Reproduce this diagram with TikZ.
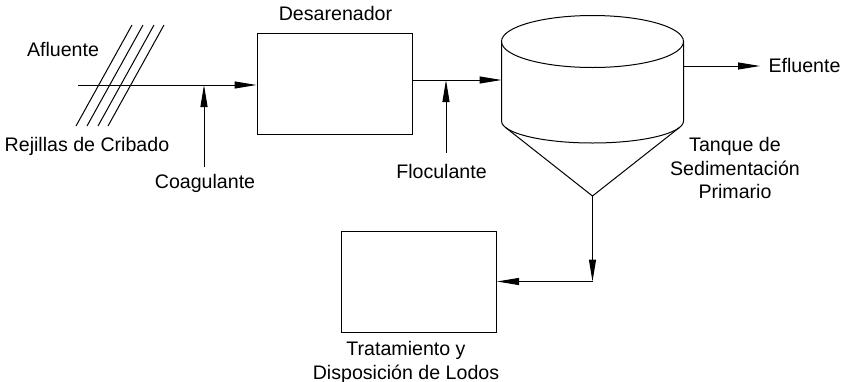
\documentclass[tikz,border=0pt]{standalone}
\usepackage{fontspec}
\setmainfont{Liberation Sans}
\usetikzlibrary{positioning,arrows.meta,calc}

\begin{document}
\begin{tikzpicture}[x=0.5pt,y=-0.5pt,line width=0.5pt,>={Triangle[length=11pt,width=3.5pt]},
  unit/.style={draw,minimum width=77.5pt,minimum height=50.5pt,inner sep=0pt},
  lbl/.style={font=\fontsize{9.8}{11.8}\selectfont,inner sep=0pt,anchor=base}]
\useasboundingbox (0,0) rectangle (842,381);
% process units
\node[unit] (des) at (334.5,83.5) {};
\node[unit] (lodos) at (419,281.5) {};
% screens
\foreach \dx in {0,11,22,32} \draw (76+\dx,126) -- (132+\dx,25);
% settling tank
\draw (592.5,41.5) ellipse[x radius=45.5pt,y radius=13pt];
\draw (501.5,41.5) -- (501.5,121) arc[start angle=180,end angle=360,x radius=45.5pt,y radius=11pt] -- (683.5,41.5);
\coordinate (apex) at (592.5,196);
\draw ($(592.5,121)+(196:45.5pt and 11pt)$) -- (apex) -- ($(592.5,121)+(344:45.5pt and 11pt)$);
\coordinate (afl) at (78,85);
\coordinate (tankin) at (501.5,80);
\coordinate (tankout) at (683.5,66);
\coordinate (efl) at (760,66);
\coordinate (bend) at (592.5,281.5);
\coordinate (coagsrc) at (204,167);
\coordinate (flocsrc) at (446,153);
% labels
\node[lbl] (lafl) at (63,56.5) {Afluente};
\node[lbl] (lrej) at (87,151.5) {Rejillas de Cribado};
\node[lbl] (coag) at (205,188) {Coagulante};
\node[lbl] (ldes) at (335.5,20) {Desarenador};
\node[lbl] (floc) at (441.5,178) {Floculante};
\node[lbl,anchor=base west] (lefl) at (768,72) {Efluente};
\node[lbl,align=center,anchor=north] (ltank) at (735,137) {Tanque de\\Sedimentación\\Primario};
\node[lbl,align=center,anchor=north] (llodos) at (406,341) {Tratamiento y\\Disposición de Lodos};
% flows
\draw[->] (afl) -- (afl -| des.west);
\draw[->] (coagsrc) -- (coagsrc |- afl);
\draw[->] (des.east |- tankin) -- (tankin);
\draw[->] (flocsrc) -- (flocsrc |- tankin);
\draw[->] (tankout) -- (efl);
\draw[->] (apex) -- (bend);
\draw[->] (bend) -- (lodos.east);
\end{tikzpicture}
\end{document}
